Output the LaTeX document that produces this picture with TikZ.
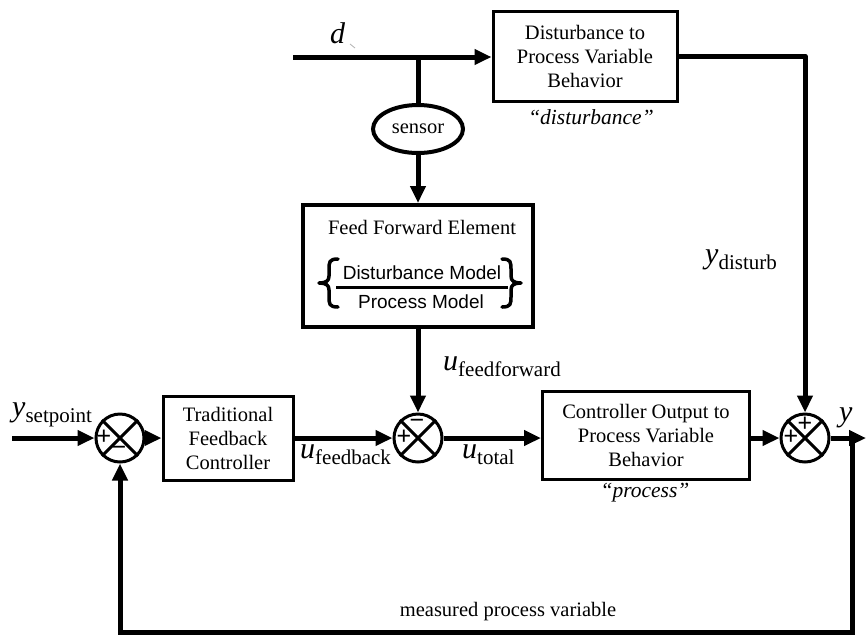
\documentclass[tikz,border=0pt]{standalone}
\usepackage{fontspec}
\setmainfont{Liberation Serif}
\newfontfamily\sansf{Liberation Sans}
\usetikzlibrary{arrows.meta,shapes.geometric}
\newcommand\sublbl[2]{{\fontsize{30}{30}\selectfont\itshape #1}\raisebox{-6pt}{\fontsize{21}{20}\selectfont #2}}
\begin{document}
\begin{tikzpicture}[x=1pt,y=-1pt,
  boxtxt/.style={font=\fontsize{20.5}{24}\selectfont, align=center},
  blk/.style={draw, line width=3pt, boxtxt, inner sep=0pt},
  sumj/.style={draw, circle, line width=3pt, minimum size=48pt, inner sep=0pt},
  sig/.style={line width=5pt, -{Triangle[length=17pt,width=15pt]}},
  wire/.style={line width=5pt},
  sgn/.style={font=\sansf\fontsize{25}{25}\selectfont, inner sep=0pt},
  lbl/.style={anchor=base west, inner sep=0pt},
  note/.style={font=\fontsize{21.5}{24}\selectfont\itshape, inner sep=0pt},
  brace/.style={line width=3.5pt, line cap=round, line join=round}
]
\useasboundingbox (0,0) rectangle (866,638);

% blocks
\node[blk, minimum width=130pt, minimum height=84pt] (tfc) at (228,438) {Traditional\\Feedback\\Controller};
\node[blk, minimum width=207pt, minimum height=88pt] (pb) at (646,435) {Controller Output to\\Process Variable\\Behavior};
\node[blk, minimum width=184pt, minimum height=90pt] (db) at (585,56) {Disturbance to\\Process Variable\\Behavior};
\node[draw, line width=4pt, minimum width=230pt, minimum height=122pt] (ff) at (418,266) {};
\node[draw, ellipse, line width=4pt, minimum width=90pt, minimum height=48pt, inner sep=0pt, boxtxt] (sen) at (418,129) {sensor};

% feed forward content
\node[boxtxt, inner sep=0pt] (fft) at (422,227) {Feed Forward Element};
\node[font=\sansf\fontsize{19}{19}\selectfont, inner sep=0pt] (num) at (422,273) {Disturbance Model};
\node[font=\sansf\fontsize{19}{19}\selectfont, inner sep=0pt] (den) at (421,302) {Process Model};
\draw[line width=3pt] (336,287) -- (508,287);
\draw[brace] (338,259) .. controls (329,259) and (329,262) .. (329,270) -- (329,276)
  .. controls (329,281) and (326,283) .. (319,283)
  .. controls (326,283) and (329,285) .. (329,290) -- (329,296)
  .. controls (329,304) and (329,307) .. (338,307);
\draw[brace] (502,259) .. controls (511,259) and (511,262) .. (511,270) -- (511,276)
  .. controls (511,281) and (514,283) .. (521,283)
  .. controls (514,283) and (511,285) .. (511,290) -- (511,296)
  .. controls (511,304) and (511,307) .. (502,307);

% summing junctions
\node[sumj] (s1) at (120,438) {};
\node[sumj] (s2) at (418,438) {};
\node[sumj] (s3) at (805,438) {};
\foreach \s in {s1,s2,s3}{
  \draw[line width=3pt] (\s.north west) -- (\s.south east) (\s.north east) -- (\s.south west);
}
\node[sgn] (s1p) at (104,437) {+};
\node[sgn] (s1m) at (119,451) {−};
\node[sgn] (s2p) at (404,437) {+};
\node[sgn] (s2m) at (417,424) {−};
\node[sgn] (s3t) at (805,424) {+};
\node[sgn] (s3l) at (791,437) {+};

% coordinates
\coordinate (yin) at (12,438);
\coordinate (din) at (293,57);
\coordinate (br) at (418,57);
\coordinate (yout) at (866,438);
\coordinate (tap) at (852,438);
\coordinate (fbr) at (852,632);
\coordinate (fbl) at (120,632);

% connectors
\draw[sig] (yin) -- (s1.west);
\draw[sig] (s1.east) -- (s1 -| tfc.west);
\draw[sig] (tfc.east |- s2) -- (s2.west);
\draw[sig] (s2.east) -- (s2 -| pb.west);
\draw[sig] (pb.east |- s3) -- (s3.west);
\draw[sig] (s3.east) -- (yout);
\draw[sig] (din) -- (din -| db.west);
\draw[wire] (br) -- (sen.north);
\draw[sig] (sen.south) -- (ff.north);
\draw[sig] (ff.south) -- (s2.north);
\draw[sig, line join=round] (db.east) -| (s3.north);
\draw[sig, line join=miter] (tap) -- (fbr) -- (fbl) -- (s1.south);

% labels
\node[lbl] (lys) at (12,416) {\sublbl{y}{setpoint}};
\node[lbl] (luf) at (300,458) {\sublbl{u}{feedback}};
\node[lbl] (lut) at (462,458) {\sublbl{u}{total}};
\node[lbl] (luff) at (443,370) {\sublbl{u}{feedforward}};
\node[lbl] (lyd) at (705,263) {\sublbl{y}{disturb}};
\node[lbl] (ly) at (839,421) {{\fontsize{30}{30}\selectfont\itshape y}};
\node[lbl] (ld) at (330,43) {{\fontsize{30}{30}\selectfont\itshape d}};
\draw[gray!60, line width=0.8pt] (350,44) -- (355,48);
\node[note] (ndist) at (591,117) {“disturbance”};
\node[note] (nproc) at (645,493) {“process”};
\node[boxtxt, inner sep=0pt] (nmpv) at (508,612) {measured process variable};
\end{tikzpicture}
\end{document}
